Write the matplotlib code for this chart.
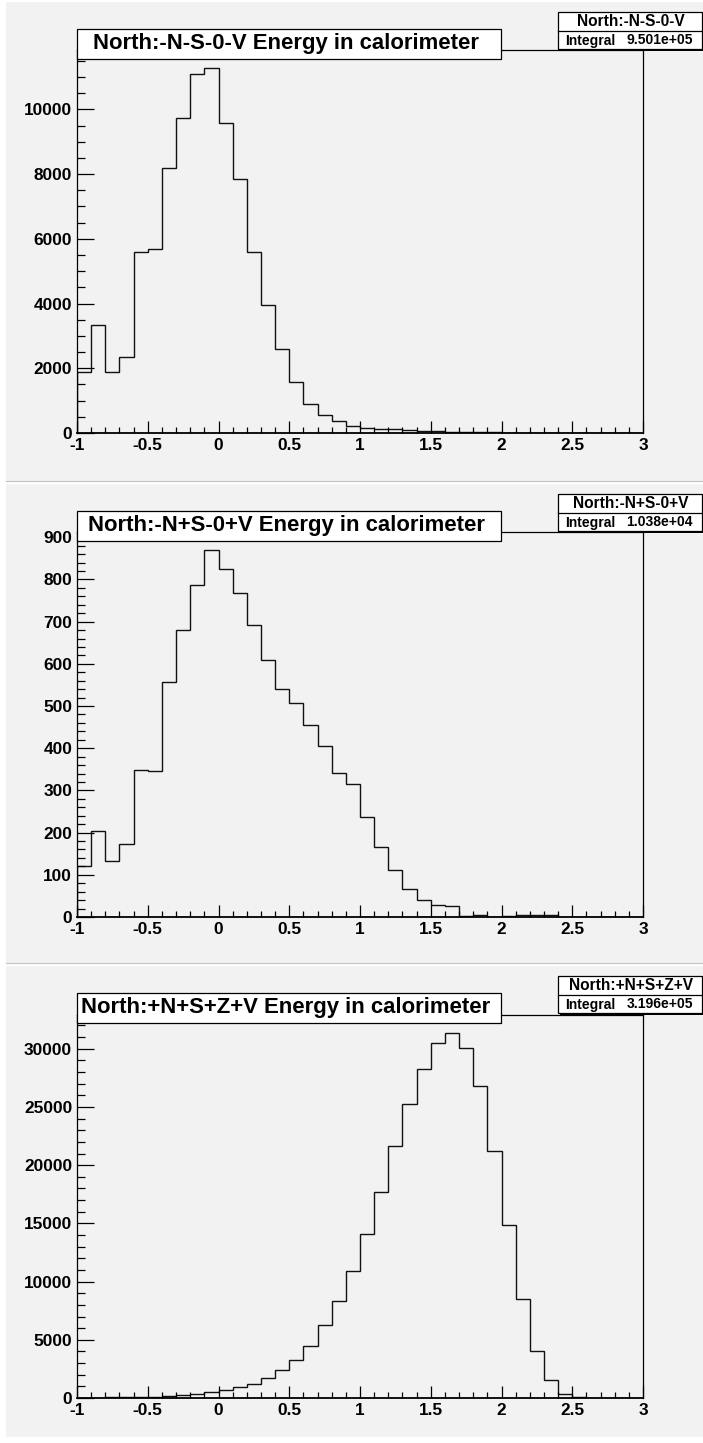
import matplotlib
matplotlib.use("Agg")
import matplotlib.pyplot as plt
import numpy as np
from matplotlib.patches import Rectangle
from matplotlib.lines import Line2D
from matplotlib.ticker import MultipleLocator, FuncFormatter

plt.rcParams['font.family'] = ['Liberation Sans', 'DejaVu Sans']
plt.rcParams['font.weight'] = 'bold'

# binning: 40 bins of width 0.1 between -1 and 3
bin_edges = np.round(np.arange(-1.0, 3.05, 0.1), 2)

# bin contents
counts_nsv = [1900, 3330, 1900, 2360, 5590, 5680, 8200, 9720, 11100, 11270,
              9580, 7840, 5580, 3970, 2590, 1570, 900, 560, 380, 215,
              145, 125, 110, 90, 70, 50, 40, 30, 25, 20,
              15, 10, 8, 5, 4, 3, 2, 1, 0, 0]
counts_npsv = [122, 205, 133, 172, 348, 346, 558, 680, 787, 869,
               825, 769, 693, 610, 540, 506, 454, 405, 342, 316,
               237, 165, 111, 67, 41, 28, 25, 3, 5, 1,
               3, 5, 5, 4, 0, 0, 0, 0, 0, 0]
counts_npspzpv = [20, 30, 50, 70, 100, 120, 170, 250, 310, 490,
                  660, 910, 1200, 1740, 2430, 3280, 4500, 6280, 8330, 10950,
                  14120, 17670, 21610, 25240, 28280, 30530, 31330, 30080, 26820, 21210,
                  14890, 8520, 4000, 1520, 320, 60, 15, 5, 0, 0]

titles = ["North:-N-S-0-V Energy in calorimeter",
          "North:-N+S-0+V Energy in calorimeter",
          "North:+N+S+Z+V Energy in calorimeter"]
stat_names = ["North:-N-S-0-V", "North:-N+S-0+V", "North:+N+S+Z+V"]
integrals = ["9.501e+05", "1.038e+04", "3.196e+05"]
all_counts = [counts_nsv, counts_npsv, counts_npspzpv]
y_steps = [(2000, 500), (100, 20), (5000, 1000)]

W, H = 703, 1443
fig = plt.figure(figsize=(W / 100, H / 100), dpi=100, facecolor='white')

pad_top = [2, 484, 966]
pad_bot = [481, 963, 1437]
frame_top = [50, 532, 1015]
frame_bot = [433, 917, 1398]
fx0, fx1 = 77, 643


def fx(x):
    return x / W


def fy(y):
    return 1 - y / H


def px_rect(x0, y0, x1, y1, **kw):
    r = Rectangle((fx(x0), fy(y1)), (x1 - x0) / W, (y1 - y0) / H,
                  transform=fig.transFigure, **kw)
    fig.add_artist(r)
    return r


for i in range(3):
    pt, pb = pad_top[i], pad_bot[i]
    # pad background and bottom edge
    px_rect(6, pt, W, pb, facecolor='#f2f2f2', edgecolor='none', zorder=-2)
    if i < 2:
        fig.add_artist(Line2D([fx(6), fx(W)], [fy(pb), fy(pb)], color='#c4c4c4',
                              lw=0.9, transform=fig.transFigure, zorder=-1))

    ax = fig.add_axes([fx(fx0), fy(frame_bot[i]), (fx1 - fx0) / W,
                       (frame_bot[i] - frame_top[i]) / H])
    ax.set_facecolor('#f2f2f2')
    ax.stairs(all_counts[i], bin_edges, color='#111111', lw=1.0)
    ax.set_xlim(-1, 3)
    ax.set_ylim(0, 1.05 * max(all_counts[i]))

    ax.xaxis.set_major_locator(MultipleLocator(0.5))
    ax.xaxis.set_minor_locator(MultipleLocator(0.1))
    ax.yaxis.set_major_locator(MultipleLocator(y_steps[i][0]))
    ax.yaxis.set_minor_locator(MultipleLocator(y_steps[i][1]))
    ax.xaxis.set_major_formatter(FuncFormatter(lambda v, p: '%g' % v))
    ax.yaxis.set_major_formatter(FuncFormatter(lambda v, p: '%d' % v))

    ax.tick_params(axis='x', which='major', direction='in', length=8.3, width=0.9,
                   labelsize=12.4, pad=3.5, top=False)
    ax.tick_params(axis='x', which='minor', direction='in', length=4.1, width=0.9, top=False)
    ax.tick_params(axis='y', which='major', direction='in', length=12.2, width=0.9,
                   labelsize=12.4, pad=3.5, right=False)
    ax.tick_params(axis='y', which='minor', direction='in', length=6.1, width=0.9, right=False)
    for lab in ax.get_xticklabels() + ax.get_yticklabels():
        lab.set_fontweight('bold')
    for side in ['top', 'right', 'left']:
        ax.spines[side].set_linewidth(0.9)
    ax.spines['bottom'].set_linewidth(1.3)

    # title box
    tb0, tb1 = pt + 27, pt + 57
    px_rect(78, tb0 + 1, 502, tb1 + 1, facecolor='black', edgecolor='none', zorder=5)
    px_rect(77, tb0, 501, tb1, facecolor='white', edgecolor='black', lw=0.9, zorder=6)
    fig.text(fx(286), fy((tb0 + tb1) / 2), titles[i], fontsize=15.9, fontweight='bold',
             ha='center', va='center', zorder=7)

    # stats box
    sb0, sbm, sb1 = pt + 10, pt + 29, pt + 47
    px_rect(560, sb0 + 2, 704, sb1 + 2, facecolor='black', edgecolor='none', zorder=5)
    px_rect(558, sb0, 702, sb1, facecolor='white', edgecolor='black', lw=0.9, zorder=6)
    fig.add_artist(Line2D([fx(558), fx(702)], [fy(sbm), fy(sbm)], color='black', lw=0.9,
                          transform=fig.transFigure, zorder=7))
    fig.text(fx(631), fy((sb0 + sbm) / 2 + 0.5), stat_names[i], fontsize=11.2,
             fontweight='bold', ha='center', va='center', zorder=8)
    fig.text(fx(565), fy((sbm + sb1) / 2 + 0.5), "Integral", fontsize=10,
             fontweight='bold', ha='left', va='center', zorder=8)
    fig.text(fx(693), fy((sbm + sb1) / 2 + 0.5), integrals[i], fontsize=10,
             fontweight='bold', ha='right', va='center', zorder=8)

fig.savefig('out.png', dpi=100, facecolor='white')
